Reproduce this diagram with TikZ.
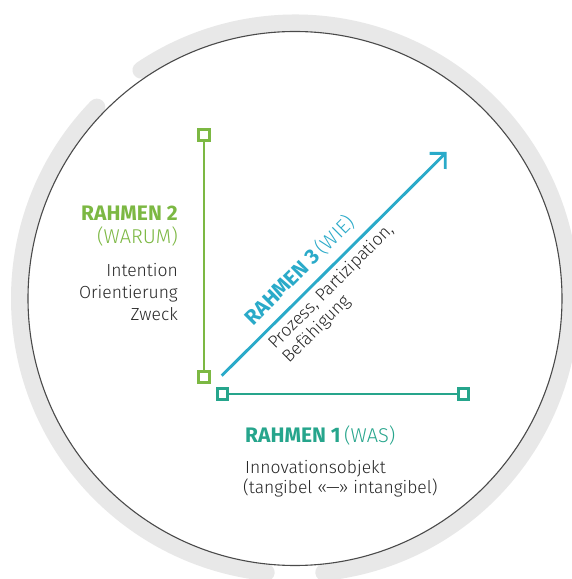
\documentclass[tikz,border=0pt]{standalone}
\usepackage{fontspec}
\setmainfont{Fira Sans}
\newfontfamily\lightfont{Fira Sans Light}
\usetikzlibrary{arrows.meta}
\definecolor{rgreen}{HTML}{7CB843}
\definecolor{rteal}{HTML}{26A58C}
\definecolor{rblue}{HTML}{2AAAC9}
\definecolor{ringgray}{HTML}{E8E8E8}
\definecolor{rimgray}{HTML}{4A4A4A}
\definecolor{txt}{HTML}{262626}
\tikzset{
  ring/.style={draw=ringgray, line width=17pt, line cap=round},
  rim/.style={draw=rimgray, line width=1.1pt},
  endsq/.style={draw=#1, fill=white, line width=2.6pt, minimum size=10.5pt, inner sep=0pt, shape=rectangle},
  axis/.style={draw=#1, line width=2.9pt},
  head/.style={font=\fontsize{21}{25}\selectfont\bfseries, inner sep=0pt},
  sub/.style={font=\lightfont\fontsize{20}{24}\selectfont, inner sep=0pt},
  body/.style={font=\lightfont\fontsize{17.5}{20}\selectfont, text=txt, inner sep=0pt},
}
\begin{document}
\begin{tikzpicture}[x=1pt,y=1pt]
\useasboundingbox (0,0) rectangle (572,579);
\fill[white] (0,0) rectangle (572,579);

% outer ring with two gaps and the thin rim
\coordinate (c) at (295,280.5);
\draw[ring] (c) ++(136:275.5) arc[start angle=136, end angle=264, radius=275.5];
\draw[ring] (c) ++(276:275.5) arc[start angle=276, end angle=484, radius=275.5];
\draw[rim] (c) circle[radius=267];

% frame 2: vertical axis
\node[endsq=rgreen] (g1) at (204,444) {};
\node[endsq=rgreen] (g2) at (204,202) {};
\draw[axis=rgreen] (g1) -- (g2);

% frame 1: horizontal axis
\node[endsq=rteal] (t1) at (222.5,185) {};
\node[endsq=rteal] (t2) at (463.5,185) {};
\draw[axis=rteal] (t1) -- (t2);

% frame 3: diagonal arrow
\coordinate (b0) at (221.7,203.3);
\coordinate (b1) at (446.7,427);
\draw[draw=rblue, line width=2.9pt, -{Straight Barb[length=11pt, width=22pt, line width=2.9pt]}] (b0) -- (b1);

% labels of frame 2
\node[head, text=rgreen, anchor=base east] (r2) at (178,358.3) {RAHMEN 2};
\node[sub, text=rgreen, anchor=base east] (r2s) at (178,335) {(WARUM)};
\node[body, anchor=base east] (r2a) at (178,302.3) {Intention};
\node[body, anchor=base east] (r2b) at (178,280) {Orientierung};
\node[body, anchor=base east] (r2c) at (178,258) {Zweck};

% labels of frame 1
\node[head, text=rteal, anchor=base west] (r1) at (245,136.3) {RAHMEN 1\,{\lightfont\mdseries\fontsize{20}{24}\selectfont(WAS)}};
\node[body, anchor=base west] (r1a) at (245,105) {Innovationsobjekt};
\node[body, anchor=base west] (r1b) at (243,85) {(tangibel «—» intangibel)};

% labels of frame 3
\node[head, text=rblue, anchor=base west, rotate=45] (r3) at (253,252.3) {RAHMEN 3\,{\lightfont\mdseries\fontsize{20}{24}\selectfont(WIE)}};
\node[body, anchor=base west, rotate=45] (r3a) at (275,229) {Prozess, Partizipation,};
\node[body, anchor=base west, rotate=45] (r3b) at (289,215) {Befähigung};
\end{tikzpicture}
\end{document}
